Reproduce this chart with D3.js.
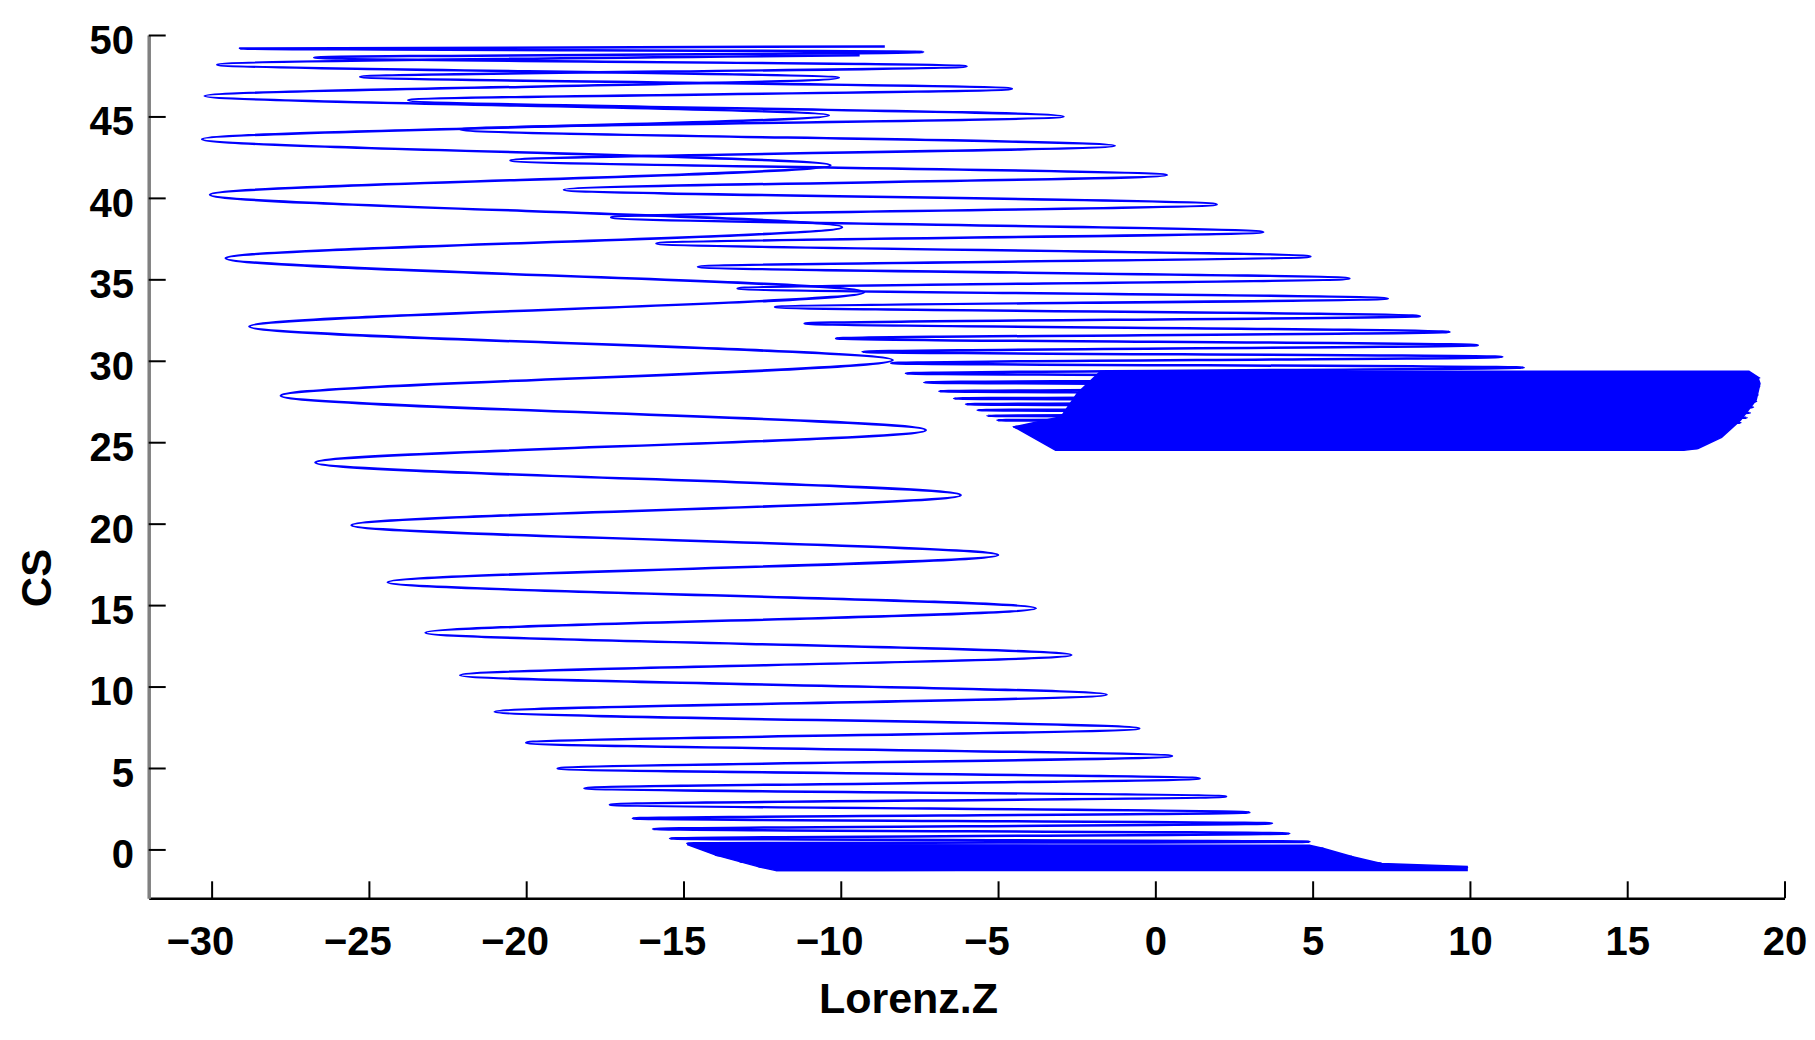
<!DOCTYPE html>
<html>
<head>
<meta charset="utf-8">
<script src="https://cdn.jsdelivr.net/npm/d3@7"></script>
<style>
  body { margin: 0; background: #fff; }
  text { font-family: "Liberation Sans", Arial, sans-serif; font-weight: bold; fill: #000; }
</style>
</head>
<body>
<svg id="chart" width="1815" height="1040"></svg>
<script>
// turning points [Lorenz.Z, CS], CS ascending
var lowerSpiral = [
    [-12.06,-1.27],[9.91,-1.1],[-12.6,-1.07],[7.18,-0.86],[-13.2,-0.76],[6.27,-0.45],
    [-13.97,-0.35],[5.35,0.06],[-14.88,0.37],[4.9,0.47],[-15.43,0.67],[4.26,0.98],
    [-15.97,1.25],[3.71,1.6],[-16.61,1.9],[2.99,2.27],[-17.34,2.75],[2.25,3.25],
    [-18.15,3.75],[1.41,4.36],[-19.0,4.97],[0.53,5.73],[-20.0,6.55],[-0.51,7.43],
    [-21.0,8.45],[-1.55,9.5],[-22.1,10.7],[-2.67,11.93],[-23.2,13.3],[-3.8,14.8],
    [-24.4,16.4],[-5.0,18.07],[-25.55,19.9],[-6.19,21.75],[-26.7,23.75],[-7.3,25.74],
    [-27.8,27.85],[-8.35,30.04],[-28.8,32.1],[-9.26,34.2],[-29.55,36.3],[-9.96,38.2],
    [-30.05,40.2],[-10.33,42.0],[-30.3,43.6],[-10.38,45.07],[-30.22,46.26],[-10.06,47.37],
    [-29.82,48.18],[-9.4,48.76]
];

var upperSpiral = [
    [-3.17,24.55],[17.25,24.65],[-4.49,25.94],[18.6,26.2],[-5.02,26.35],[18.8,26.5],
    [-5.34,26.62],[18.9,26.8],[-5.65,26.97],[19.0,27.15],[-6.02,27.33],[19.1,27.5],
    [-6.4,27.68],[19.15,27.9],[-6.87,28.13],[19.2,28.4],[-7.35,28.67],[19.2,28.95],
    [-7.93,29.22],[11.71,29.59],[-8.4,29.85],[11.03,30.24],[-9.31,30.55],[10.25,30.96],
    [-10.15,31.37],[9.35,31.77],[-11.15,32.29],[8.41,32.74],[-12.09,33.3],[7.39,33.82],
    [-13.28,34.44],[6.17,35.05],[-14.54,35.77],[4.93,36.4],[-15.86,37.2],[3.43,37.9],
    [-17.3,38.8],[1.95,39.6],[-18.8,40.5],[0.37,41.4],[-20.5,42.3],[-1.29,43.2],
    [-22.1,44.2],[-2.92,45.0],[-23.75,46.0],[-4.56,46.7],[-25.28,47.43],[-6.0,48.08],
    [-26.74,48.62],[-7.38,48.96],[-29.1,49.17],[-8.6,49.3]
];

// solid regions where the curve is packed too tight to separate
var bottomBand = [
    [-14.88,0.3],[-13.97,-0.35],[-12.6,-1.07],[-12.06,-1.3],[9.91,-1.3],[9.91,-1.05],
    [7.18,-0.86],[6.27,-0.45],[5.35,0.06],[4.9,0.25]
];

var upperBlock = [
    [-1.74,29.35],[18.87,29.35],[19.15,29.0],[19.22,28.6],[19.1,27.6],[18.6,26.35],
    [18.0,25.3],[17.25,24.62],[16.8,24.5],[-3.17,24.5],[-4.49,25.94],[-3.0,26.56],
    [-2.48,28.0]
];

var xTicks = [-30,-25,-20,-15,-10,-5,0,5,10,15,20];
var yTicks = [0,5,10,15,20,25,30,35,40,45,50];

var svg = d3.select("#chart"),
    x = d3.scaleLinear().domain([-32, 20]).range([148.7, 1784.5]),
    y = d3.scaleLinear().domain([-3, 50]).range([898.3, 35]),
    blue = "#0000ff";

// axes: ticks point inwards, as in the original
var gx = svg.append("g")
    .attr("transform", "translate(0," + y(-3) + ")")
    .call(d3.axisBottom(x).tickValues(xTicks).tickSizeInner(-17).tickSizeOuter(0).tickPadding(28.6));
gx.select(".domain").attr("stroke", "#000").attr("stroke-width", 2.6);
gx.selectAll(".tick line").attr("stroke", "#000").attr("stroke-width", 2);
gx.selectAll(".tick text")
    .attr("font-size", 40)
    .attr("font-family", null)
    .attr("dx", d => d < 0 ? -11.7 : 0);

var gy = svg.append("g")
    .attr("transform", "translate(" + x(-32) + ",0)")
    .call(d3.axisLeft(y).tickValues(yTicks).tickSizeInner(-17).tickSizeOuter(0).tickPadding(14.7));
gy.select(".domain").attr("stroke", "#808080").attr("stroke-width", 3.5);
gy.selectAll(".tick line").attr("stroke", "#000").attr("stroke-width", 2);
gy.selectAll(".tick text")
    .attr("font-size", 40)
    .attr("font-family", null)
    .attr("dy", "0.46em");

svg.selectAll(".tick text").attr("font-weight", "bold");

svg.append("text")
    .attr("x", 908.5)
    .attr("y", 1013)
    .attr("text-anchor", "middle")
    .attr("font-size", 43)
    .text("Lorenz.Z");

svg.append("text")
    .attr("transform", "translate(51,578) rotate(-90)")
    .attr("text-anchor", "middle")
    .attr("font-size", 42)
    .text("CS");

// data
var plot = svg.append("g");

var patch = d3.line()
    .x(d => x(d[0]))
    .y(d => y(d[1]))
    .curve(d3.curveLinearClosed);

var wave = d3.line()
    .x(d => x(d[0]))
    .y(d => y(d[1]))
    .curve(d3.curveMonotoneY);

plot.selectAll(".patch")
    .data([bottomBand, upperBlock])
    .enter().append("path")
    .attr("class", "patch")
    .attr("d", patch)
    .attr("fill", blue)
    .attr("stroke", blue)
    .attr("stroke-width", 1.5);

plot.selectAll(".wave")
    .data([lowerSpiral, upperSpiral])
    .enter().append("path")
    .attr("class", "wave")
    .attr("d", wave)
    .attr("fill", "none")
    .attr("stroke", blue)
    .attr("stroke-width", 2.5)
    .attr("stroke-linejoin", "round");
</script>
</body>
</html>
